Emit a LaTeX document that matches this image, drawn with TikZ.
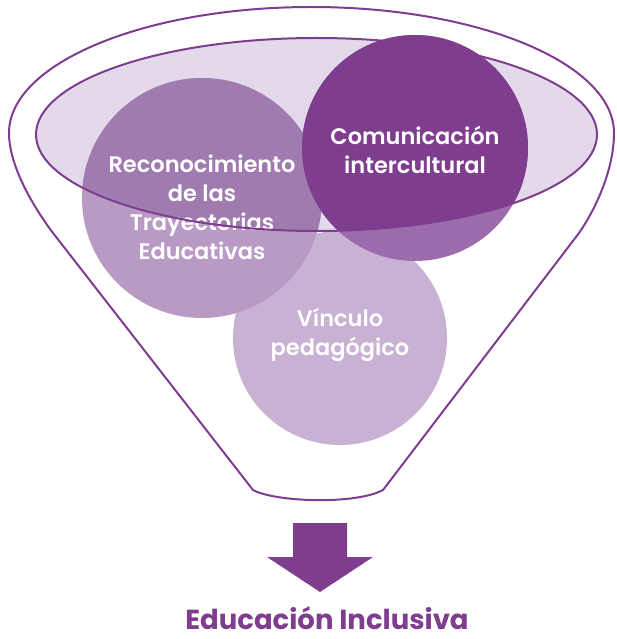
\documentclass[tikz,border=0pt]{standalone}
\usepackage{fontspec}
\setmainfont{Poppins}
\newfontfamily\popsb{Poppins SemiBold}
\newfontfamily\popb{Poppins Bold}
\definecolor{purp}{HTML}{7E3D8F}
\definecolor{lav}{HTML}{E4D9EA}
\definecolor{recin}{HTML}{A07BB0}
\definecolor{recout}{HTML}{B89AC5}
\definecolor{darkout}{HTML}{9C6CAC}
\definecolor{vinc}{HTML}{C9B1D3}
\tikzset{
  outline/.style={draw=purp, line width=2pt, line join=round},
  label/.style={text=white, align=center, font=\popsb\fontsize{22.5}{29}\selectfont},
}
\begin{document}
\begin{tikzpicture}[x=1pt,y=-1pt]
\useasboundingbox (0,0) rectangle (616,639);
% inner ellipse fill
\fill[lav] (316.5,134.5) ellipse [x radius=280.5, y radius=96.5];
% Vinculo circle
\fill[vinc] (340,338) circle [radius=107];
% Reconocimiento circle
\fill[recout] (202,198) circle [radius=120];
\begin{scope}
  \clip (316.5,134.5) ellipse [x radius=280.5, y radius=96.5];
  \fill[recin] (202,198) circle [radius=120];
\end{scope}
% Comunicacion circle
\fill[darkout] (415,148) circle [radius=113];
\begin{scope}
  \clip (316.5,134.5) ellipse [x radius=280.5, y radius=96.5];
  \fill[purp] (415,148) circle [radius=113];
\end{scope}
\begin{scope}
  \clip (0,0) rectangle (616,134.5);
  \fill[purp] (415,148) circle [radius=113];
\end{scope}
% texts
\node[label] (rec) at (202,207) {Reconocimiento\\de las\\Trayectorias\\Educativas};
\node[label] (com) at (415,150) {Comunicación\\intercultural};
\node[label] (vin) at (340,335) {Vínculo\\pedagógico};
% inner ellipse outline
\draw[outline] (316.5,134.5) ellipse [x radius=280.5, y radius=96.5];
% funnel outline
\coordinate (bl) at (253,490);
\coordinate (br) at (383,490);
\draw[outline] (bl) -- (53,233)
  .. controls (32,205) and (9,165) .. (9,133)
  .. controls (9,63.4) and (144.4,7) .. (311.5,7)
  .. controls (478.6,7) and (614,63.4) .. (614,133)
  .. controls (614,168) and (597,207) .. (579,233)
  -- (br)
  .. controls (355,505) and (275,502) .. (bl) -- cycle;
% arrow
\fill[purp] (293,523) coordinate (atop) -- (347,523) -- (347,557) -- (373,557)
  -- (320,592) coordinate (tip) -- (267,557) -- (293,557) -- cycle;
\node[text=purp, inner sep=0pt, anchor=base, font=\popb\fontsize{27.5}{30}\selectfont] (edu) at (327,629.5) {Educación Inclusiva};
\end{tikzpicture}
\end{document}
